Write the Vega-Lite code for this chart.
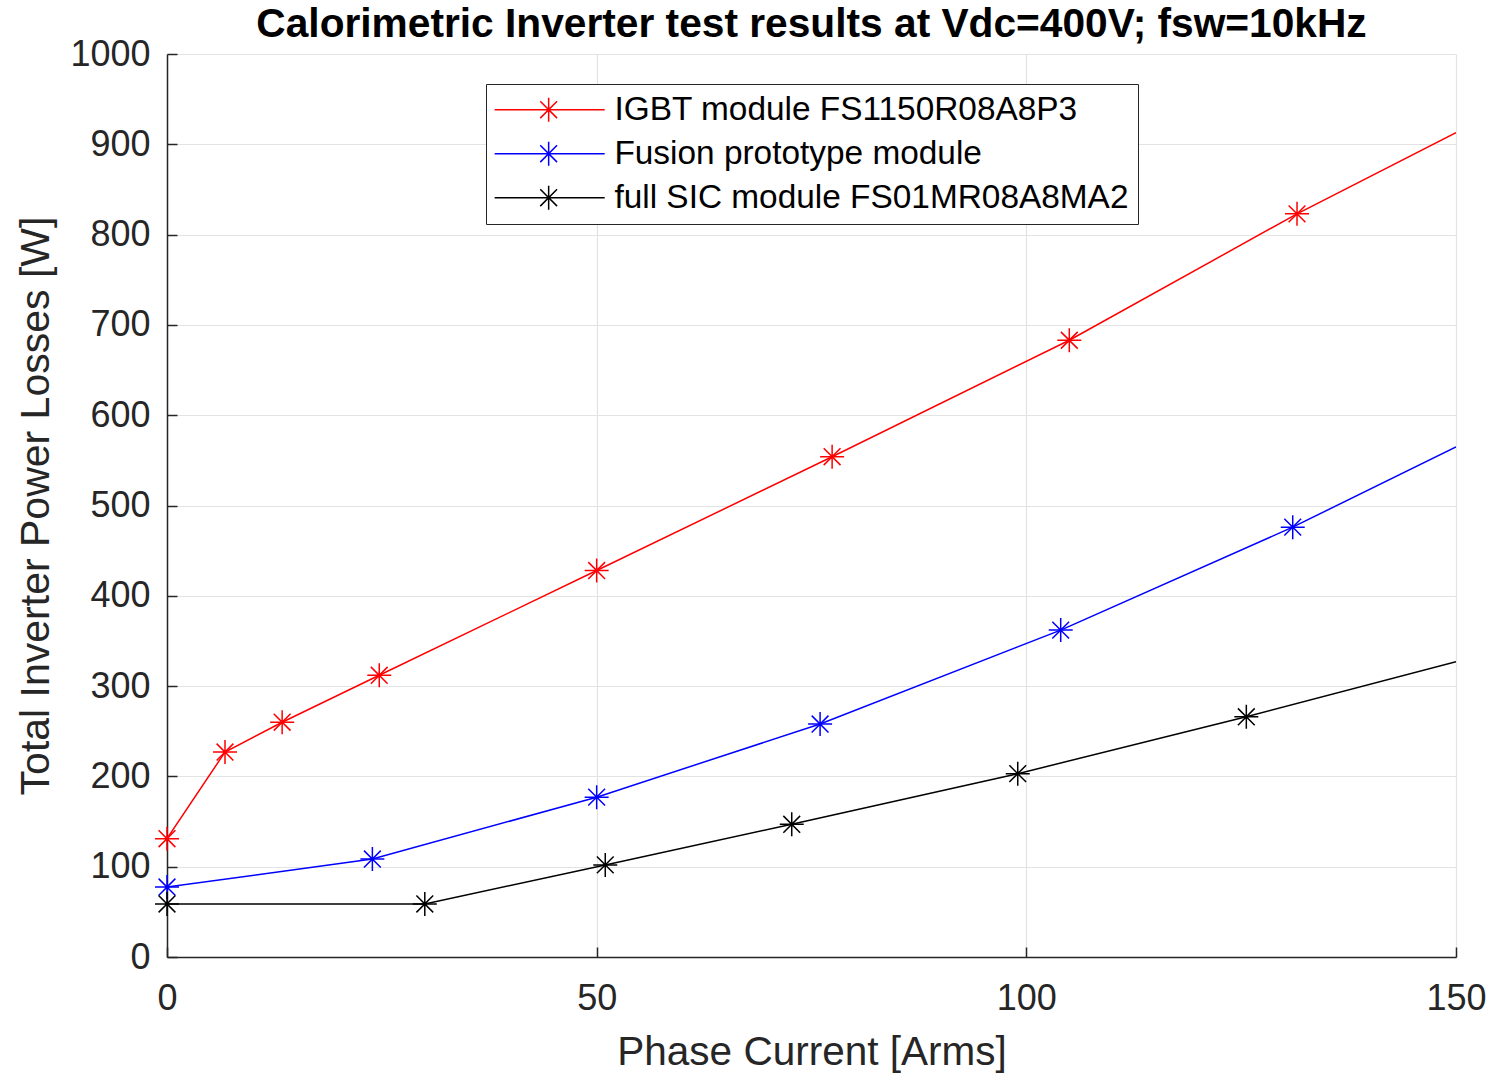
{
  "$schema": "https://vega.github.io/schema/vega-lite/v6.json",
  "width": 1289,
  "height": 903,
  "autosize": {"type": "none"},
  "padding": {"left": 167, "top": 54, "right": 33, "bottom": 116},
  "background": "white",
  "title": {
    "text": "Calorimetric Inverter test results at Vdc=400V; fsw=10kHz",
    "font": "Liberation Sans",
    "fontSize": 40.7,
    "fontWeight": "bold",
    "color": "#000000",
    "anchor": "middle",
    "offset": -10
  },
  "data": {
    "values": [
      {"series": "IGBT module FS1150R08A8P3", "current": 0, "loss": 131, "marker": 1},
      {"series": "IGBT module FS1150R08A8P3", "current": 6.75, "loss": 227, "marker": 1},
      {"series": "IGBT module FS1150R08A8P3", "current": 13.4, "loss": 260, "marker": 1},
      {"series": "IGBT module FS1150R08A8P3", "current": 24.7, "loss": 312, "marker": 1},
      {"series": "IGBT module FS1150R08A8P3", "current": 50, "loss": 428, "marker": 1},
      {"series": "IGBT module FS1150R08A8P3", "current": 77.4, "loss": 554, "marker": 1},
      {"series": "IGBT module FS1150R08A8P3", "current": 105, "loss": 683, "marker": 1},
      {"series": "IGBT module FS1150R08A8P3", "current": 131.5, "loss": 823, "marker": 1},
      {"series": "IGBT module FS1150R08A8P3", "current": 150, "loss": 913, "marker": 0},
      {"series": "Fusion prototype module", "current": 0, "loss": 77.5, "marker": 1},
      {"series": "Fusion prototype module", "current": 23.9, "loss": 108.5, "marker": 1},
      {"series": "Fusion prototype module", "current": 50, "loss": 177, "marker": 1},
      {"series": "Fusion prototype module", "current": 76, "loss": 258, "marker": 1},
      {"series": "Fusion prototype module", "current": 104, "loss": 362, "marker": 1},
      {"series": "Fusion prototype module", "current": 131, "loss": 476, "marker": 1},
      {"series": "Fusion prototype module", "current": 150, "loss": 565, "marker": 0},
      {"series": "full SIC module FS01MR08A8MA2", "current": 0, "loss": 58.7, "marker": 1},
      {"series": "full SIC module FS01MR08A8MA2", "current": 30, "loss": 58.7, "marker": 1},
      {"series": "full SIC module FS01MR08A8MA2", "current": 51, "loss": 102, "marker": 1},
      {"series": "full SIC module FS01MR08A8MA2", "current": 72.7, "loss": 147, "marker": 1},
      {"series": "full SIC module FS01MR08A8MA2", "current": 99, "loss": 203, "marker": 1},
      {"series": "full SIC module FS01MR08A8MA2", "current": 125.6, "loss": 266, "marker": 1},
      {"series": "full SIC module FS01MR08A8MA2", "current": 150, "loss": 327, "marker": 0}
    ]
  },
  "encoding": {
    "x": {
      "field": "current", "type": "quantitative",
      "scale": {"domain": [0, 150], "nice": false, "zero": false},
      "axis": {
        "title": "Phase Current [Arms]",
        "values": [0, 50, 100, 150],
        "format": "d",
        "titleFontSize": 40.5, "titleFont": "Liberation Sans", "titleFontWeight": "normal", "titleColor": "#262626",
        "titlePadding": 16,
        "labelFontSize": 36, "labelFont": "Liberation Sans", "labelColor": "#262626",
        "labelPadding": 34, "labelFlush": false,
        "tickSize": -10, "tickColor": "#262626", "tickWidth": 1.5,
        "domainColor": "#262626", "domainWidth": 1.5,
        "grid": true, "gridColor": "#e3e3e3", "gridWidth": 1.2
      }
    },
    "y": {
      "field": "loss", "type": "quantitative",
      "scale": {"domain": [0, 1000], "nice": false},
      "axis": {
        "title": "Total Inverter Power Losses [W]",
        "values": [0, 100, 200, 300, 400, 500, 600, 700, 800, 900, 1000],
        "format": "d",
        "titleFontSize": 41, "titleFont": "Liberation Sans", "titleFontWeight": "normal", "titleColor": "#262626",
        "titlePadding": 12,
        "labelFontSize": 36, "labelFont": "Liberation Sans", "labelColor": "#262626",
        "labelPadding": 27, "labelFlush": false,
        "tickSize": -10, "tickColor": "#262626", "tickWidth": 1.5,
        "domainColor": "#262626", "domainWidth": 1.5,
        "grid": true, "gridColor": "#e3e3e3", "gridWidth": 1.2
      }
    },
    "color": {
      "field": "series", "type": "nominal",
      "scale": {
        "domain": ["IGBT module FS1150R08A8P3", "Fusion prototype module", "full SIC module FS01MR08A8MA2"],
        "range": ["#ff0000", "#0000ff", "#000000"]
      },
      "legend": {
        "title": null,
        "orient": "none",
        "legendX": 319,
        "legendY": 30,
        "direction": "vertical",
        "symbolType": "M-1.42,0H7.75M3.08,-1V1M2.08,0H4.08M2.38,-0.7L3.78,0.7M2.38,0.7L3.78,-0.7",
        "symbolSize": 576,
        "symbolStrokeWidth": 1.5,
        "symbolFillColor": "transparent",
        "labelFontSize": 33.4,
        "labelFont": "Liberation Sans",
        "labelColor": "#000000",
        "labelOffset": 86,
        "labelLimit": 800,
        "labelExpr": "datum.label + '     '",
        "rowPadding": 9,
        "padding": 9,
        "strokeColor": "#262626",
        "fillColor": "white",
        "cornerRadius": 0
      }
    }
  },
  "layer": [
    {
      "mark": {"type": "line", "strokeWidth": 1.5, "clip": true}
    },
    {
      "transform": [{"filter": "datum.marker == 1"}],
      "mark": {
        "type": "point",
        "shape": "M0,-1V1M-1,0H1M-0.7,-0.7L0.7,0.7M-0.7,0.7L0.7,-0.7",
        "size": 576,
        "filled": false,
        "strokeWidth": 1.5,
        "opacity": 1
      }
    }
  ],
  "config": {
    "view": {"stroke": null}
  }
}
